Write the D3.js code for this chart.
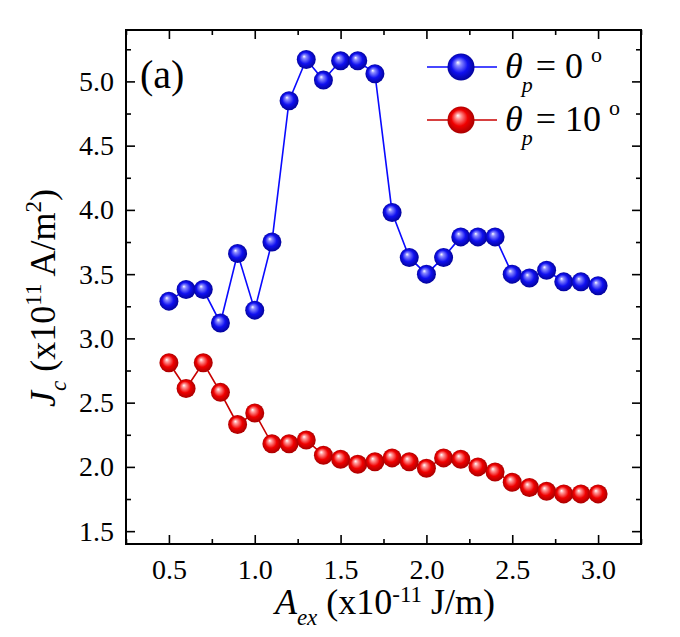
<!DOCTYPE html>
<html><head><meta charset="utf-8">
<script src="https://cdn.jsdelivr.net/npm/d3@7"></script>
</head><body style="margin:0">
<svg id="c" width="680" height="637" font-family="Liberation Serif"></svg>
<script>
const aex = [0.5,0.6,0.7,0.8,0.9,1.0,1.1,1.2,1.3,1.4,1.5,1.6,1.7,1.8,1.9,2.0,2.1,2.2,2.3,2.4,2.5,2.6,2.7,2.8,2.9,3.0];
const jc0 = [3.29,3.38,3.38,3.12,3.66,3.22,3.75,4.85,5.17,5.01,5.16,5.16,5.06,3.98,3.63,3.50,3.63,3.79,3.79,3.79,3.50,3.47,3.53,3.44,3.44,3.41];
const jc10 = [2.81,2.61,2.81,2.58,2.33,2.42,2.18,2.18,2.21,2.09,2.06,2.02,2.04,2.07,2.04,1.99,2.07,2.06,2.00,1.96,1.88,1.84,1.81,1.79,1.79,1.79];
const xTicks = [0.5,1.0,1.5,2.0,2.5,3.0];
const yTicks = [1.5,2.0,2.5,3.0,3.5,4.0,4.5,5.0];
const xMinor = [0.25,0.75,1.25,1.75,2.25,2.75,3.25];
const yMinor = [1.75,2.25,2.75,3.25,3.75,4.25,4.75,5.25];
const seriesNames = ["0", "10"];

const svg = d3.select("#c");
const L=126, R=641, T=30, B=544;
const x = d3.scaleLinear().domain([0.25,3.25]).range([L,R]);
const y = d3.scaleLinear().domain([1.4,5.4]).range([B,T]);
const FF = "Liberation Serif";

const defs = svg.append("defs");
function grad(id, c1, c2, c3){
  const g = defs.append("radialGradient").attr("id",id)
    .attr("cx","0.5").attr("cy","0.5").attr("r","0.55").attr("fx","0.38").attr("fy","0.33");
  g.append("stop").attr("offset","0").attr("stop-color","#ffffff");
  g.append("stop").attr("offset","0.18").attr("stop-color",c1);
  g.append("stop").attr("offset","0.55").attr("stop-color",c2);
  g.append("stop").attr("offset","1").attr("stop-color",c3);
}
grad("gb","#8c8cff","#1010f0","#00008a");
grad("gr","#ff9a9a","#f00000","#9a0000");

function ticks(gen, tr, vals, size){
  const g = svg.append("g").attr("transform",tr)
    .call(gen.tickValues(vals).tickSizeInner(size).tickSizeOuter(0).tickFormat(""));
  g.select(".domain").remove();
  g.attr("font-family",FF).attr("font-size",null);
  g.selectAll(".tick line").attr("stroke","#000").attr("stroke-width",1.6);
  g.selectAll(".tick text").remove();
}
function labels(gen, tr, vals, pad){
  const g = svg.append("g").attr("transform",tr)
    .call(gen.tickValues(vals).tickSize(0).tickPadding(pad).tickFormat(d3.format(".1f")));
  g.select(".domain").remove();
  g.attr("font-family",FF).attr("font-size",28);
  g.selectAll("text").attr("font-family",FF).attr("font-size",28).attr("fill","#000");
}
ticks(d3.axisTop(x), `translate(0,${B})`, xTicks, 9);
ticks(d3.axisTop(x), `translate(0,${B})`, xMinor, 5);
labels(d3.axisBottom(x), `translate(0,${B})`, xTicks, 15);
ticks(d3.axisBottom(x), `translate(0,${T})`, xTicks, 9);
ticks(d3.axisBottom(x), `translate(0,${T})`, xMinor, 5);
ticks(d3.axisRight(y), `translate(${L},0)`, yTicks, 9);
ticks(d3.axisRight(y), `translate(${L},0)`, yMinor, 5);
labels(d3.axisLeft(y), `translate(${L},0)`, yTicks, 12);
ticks(d3.axisLeft(y), `translate(${R},0)`, yTicks, 9);
ticks(d3.axisLeft(y), `translate(${R},0)`, yMinor, 5);

svg.append("rect").attr("x",L).attr("y",T).attr("width",R-L).attr("height",B-T)
  .attr("fill","none").attr("stroke","#000").attr("stroke-width",2);

const series = [
  {vals: jc0, line:"#0a0aff", fill:"url(#gb)"},
  {vals: jc10, line:"#c80000", fill:"url(#gr)"}
];
const line = d3.line().x((d,i)=>x(aex[i])).y(d=>y(d));
series.forEach(s=>{
  svg.append("path").datum(s.vals).attr("d",line).attr("fill","none")
    .attr("stroke",s.line).attr("stroke-width",1.6);
});
series.forEach(s=>{
  svg.append("g").selectAll("circle").data(s.vals).join("circle")
    .attr("cx",(d,i)=>x(aex[i])).attr("cy",d=>y(d)).attr("r",9.5)
    .attr("fill",s.fill);
});

svg.append("text").attr("x",140).attr("y",88).attr("font-family",FF)
  .attr("font-size",40).text("(a)");

const legY = [67,120];
series.forEach((s,i)=>{
  const g = svg.append("g");
  g.append("line").attr("x1",427).attr("x2",497).attr("y1",legY[i]).attr("y2",legY[i])
    .attr("stroke",s.line).attr("stroke-width",1.6);
  g.append("circle").attr("cx",461).attr("cy",legY[i]).attr("r",13.5).attr("fill",s.fill);
  const t = g.append("text").attr("x",505).attr("y",legY[i]+11).attr("font-family",FF)
    .attr("font-size",36);
  t.append("tspan").attr("font-style","italic").text("θ");
  t.append("tspan").attr("font-style","italic").attr("font-size",22).attr("dy",14).attr("dx",-1).text("p");
  t.append("tspan").attr("dy",-14).attr("dx",3).text("= " + seriesNames[i]);
  t.append("tspan").attr("font-size",22).attr("dy",-16).attr("dx",8).text("o");
});

const xl = svg.append("text").attr("x",385).attr("y",614).attr("text-anchor","middle")
  .attr("font-family",FF).attr("font-size",36);
xl.append("tspan").attr("font-style","italic").text("A");
xl.append("tspan").attr("font-style","italic").attr("font-size",23).attr("dy",11).text("ex");
xl.append("tspan").attr("dy",-11).text(" (x10");
xl.append("tspan").attr("font-size",23).attr("dy",-12).text("-11");
xl.append("tspan").attr("dy",12).text(" J/m)");

const yl = svg.append("text").attr("transform",`translate(55,298) rotate(-90)`)
  .attr("text-anchor","middle").attr("font-family",FF).attr("font-size",36);
yl.append("tspan").attr("font-style","italic").text("J");
yl.append("tspan").attr("font-style","italic").attr("font-size",23).attr("dy",11).text("c");
yl.append("tspan").attr("dy",-11).text(" (x10");
yl.append("tspan").attr("font-size",23).attr("dy",-14).text("11");
yl.append("tspan").attr("dy",14).text(" A/m");
yl.append("tspan").attr("font-size",23).attr("dy",-14).text("2");
yl.append("tspan").attr("dy",14).text(")");
</script>
</body></html>
